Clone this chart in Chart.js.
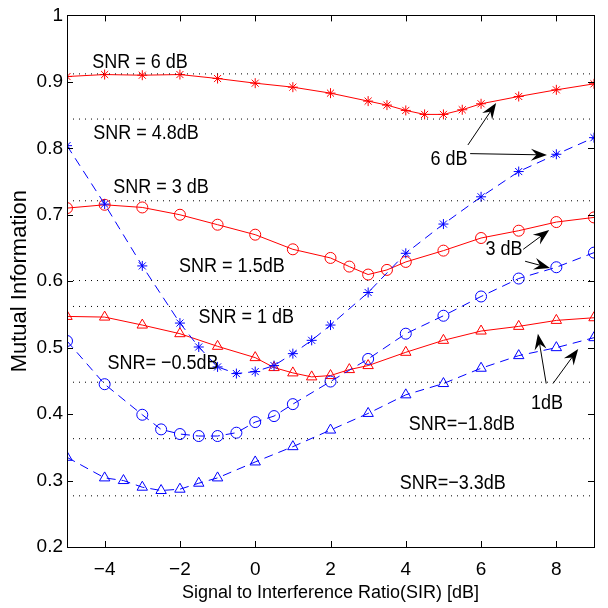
<!DOCTYPE html>
<html>
<head>
<meta charset="utf-8">
<script src="https://cdn.jsdelivr.net/npm/chart.js@4.4.0/dist/chart.umd.min.js"></script>
<style>
  html, body { margin: 0; padding: 0; background: #fff; }
</style>
</head>
<body>
<canvas id="miChart" width="608" height="608"></canvas>
<script>
// eixos
var xTicks = [-4, -2, 0, 2, 4, 6, 8];
var yTicks = [0.2, 0.3, 0.4, 0.5, 0.6, 0.7, 0.8, 0.9, 1];

// SNR = 6 dB (vermelho, estrela)
var sir6 = [-5, -4, -3, -2, -1, 0, 1, 2, 3, 3.5, 4, 4.5, 5, 5.5, 6, 7, 8, 9];
var mi6 = [0.908, 0.911, 0.910, 0.911, 0.905, 0.898, 0.892, 0.883, 0.871, 0.865, 0.857, 0.851, 0.851, 0.858, 0.867, 0.878, 0.888, 0.897];

// SNR = 4.8 dB (azul, estrela)
var sir48 = [-5, -4, -3, -2, -1.5, -1, -0.5, 0, 0.5, 1, 1.5, 2, 3, 4, 5, 6, 7, 8, 9];
var mi48 = [0.804, 0.716, 0.623, 0.537, 0.501, 0.471, 0.461, 0.464, 0.473, 0.491, 0.511, 0.534, 0.583, 0.642, 0.686, 0.727, 0.765, 0.791, 0.816];

// SNR = 3 dB (vermelho, circulo)
var sir3 = [-5, -4, -3, -2, -1, 0, 1, 2, 2.5, 3, 3.5, 4, 5, 6, 7, 8, 9];
var mi3 = [0.710, 0.715, 0.711, 0.700, 0.685, 0.670, 0.648, 0.635, 0.622, 0.610, 0.617, 0.629, 0.646, 0.665, 0.676, 0.689, 0.696];

// SNR = -0.5 dB (azul, circulo)
var sirM05 = [-5, -4, -3, -2.5, -2, -1.5, -1, -0.5, 0, 0.5, 1, 2, 3, 4, 5, 6, 7, 8, 9];
var miM05 = [0.510, 0.445, 0.399, 0.377, 0.370, 0.367, 0.367, 0.372, 0.388, 0.397, 0.415, 0.449, 0.483, 0.521, 0.548, 0.577, 0.604, 0.621, 0.643];

// SNR = 1 dB (vermelho, triangulo)
var sir1 = [-5, -4, -3, -2, -1, 0, 0.5, 1, 1.5, 2, 2.5, 3, 4, 5, 6, 7, 8, 9];
var mi1 = [0.547, 0.546, 0.534, 0.521, 0.502, 0.485, 0.470, 0.462, 0.456, 0.458, 0.467, 0.473, 0.493, 0.511, 0.525, 0.532, 0.541, 0.545];

// SNR = -1.8 dB (azul, triangulo)
var sirM18 = [-5, -4, -3.5, -3, -2.5, -2, -1.5, -1, 0, 1, 2, 3, 4, 5, 6, 7, 8, 9];
var miM18 = [0.335, 0.304, 0.300, 0.290, 0.285, 0.287, 0.296, 0.304, 0.328, 0.351, 0.376, 0.401, 0.429, 0.446, 0.469, 0.488, 0.500, 0.515];

// limites pontilhados (capacidade para cada SNR)
var limitLevels = [0.912, 0.844, 0.721, 0.601, 0.562, 0.448, 0.363, 0.277];

// rotulos das curvas [texto, sir, mi]
var snrLabels = [
    ['SNR = 6 dB', -3.06, 0.930],
    ['SNR = 4.8dB', -2.90, 0.822],
    ['SNR = 3 dB', -2.50, 0.741],
    ['SNR = 1.5dB', -0.62, 0.623],
    ['SNR = 1 dB', -0.24, 0.546],
    ['SNR= \u22120.5dB', -2.45, 0.477],
    ['SNR=\u22121.8dB', 5.49, 0.384],
    ['SNR=\u22123.3dB', 5.25, 0.296]
];

// setas [texto, sir, mi, [[x1, y1, x2, y2], ...]]
var arrowNotes = [
    ['6 dB', 5.15, 0.784, [[5.65, 0.805, 6.40, 0.868], [5.71, 0.792, 7.75, 0.790]]],
    ['3 dB', 6.61, 0.648, [[7.12, 0.648, 7.81, 0.677], [7.17, 0.630, 7.83, 0.620]]],
    ['1dB', 7.75, 0.416, [[7.73, 0.446, 7.51, 0.521], [7.91, 0.446, 8.58, 0.498]]]
];

function toPoints(xs, ys) {
    return xs.map(function (x, i) { return { x: x, y: ys[i] }; });
}

function curve(xs, ys, color, dashed, style, radius) {
    return {
        data: toPoints(xs, ys),
        borderColor: color,
        borderWidth: 1,
        borderDash: dashed ? [9, 6] : [],
        pointStyle: style,
        pointRadius: radius,
        pointBorderColor: color,
        pointBackgroundColor: 'rgba(0,0,0,0)',
        pointBorderWidth: 1,
        fill: false,
        tension: 0
    };
}

var datasets = limitLevels.map(function (v) {
    return {
        data: [{ x: -5, y: v }, { x: 9, y: v }],
        borderColor: '#000',
        borderWidth: 1,
        borderDash: [1, 5],
        pointRadius: 0,
        fill: false
    };
});
datasets.push(curve(sir6, mi6, '#ff0000', false, 'star', 5));
datasets.push(curve(sir48, mi48, '#0000ff', true, 'star', 5));
datasets.push(curve(sir3, mi3, '#ff0000', false, 'circle', 5.5));
datasets.push(curve(sirM05, miM05, '#0000ff', true, 'circle', 5.5));
datasets.push(curve(sir1, mi1, '#ff0000', false, 'triangle', 6));
datasets.push(curve(sirM18, miM18, '#0000ff', true, 'triangle', 6));

function drawArrow(ctx, x1, y1, x2, y2) {
    var dx = x2 - x1, dy = y2 - y1;
    var len = Math.sqrt(dx * dx + dy * dy);
    var ux = dx / len, uy = dy / len;
    var nx = -uy, ny = ux;
    var L = 16, W = 6;
    ctx.beginPath();
    ctx.moveTo(x1, y1);
    ctx.lineTo(x2 - ux * L * 0.6, y2 - uy * L * 0.6);
    ctx.stroke();
    ctx.beginPath();
    ctx.moveTo(x2, y2);
    ctx.lineTo(x2 - ux * L + nx * W, y2 - uy * L + ny * W);
    ctx.lineTo(x2 - ux * L * 0.65, y2 - uy * L * 0.65);
    ctx.lineTo(x2 - ux * L - nx * W, y2 - uy * L - ny * W);
    ctx.closePath();
    ctx.fill();
}

// texto um pouco esticado na vertical, como no original
function tallText(ctx, txt, x, y) {
    ctx.save();
    ctx.translate(x, y);
    ctx.scale(1, 1.15);
    ctx.fillText(txt, 0, 0);
    ctx.restore();
}

var matlabAxes = {
    id: 'matlabAxes',
    afterDraw: function (chart) {
        var ctx = chart.ctx;
        var a = chart.chartArea;
        var xs = chart.scales.x, ys = chart.scales.y;
        ctx.save();
        ctx.strokeStyle = '#000';
        ctx.fillStyle = '#000';
        ctx.lineWidth = 1;
        // caixa
        ctx.strokeRect(Math.round(a.left) + 0.5, Math.round(a.top) + 0.5,
            Math.round(a.right - a.left), Math.round(a.bottom - a.top));
        // marcas para dentro
        ctx.beginPath();
        xTicks.forEach(function (v) {
            var px = Math.round(xs.getPixelForValue(v)) + 0.5;
            ctx.moveTo(px, a.bottom); ctx.lineTo(px, a.bottom - 6);
            ctx.moveTo(px, a.top); ctx.lineTo(px, a.top + 6);
        });
        yTicks.forEach(function (v) {
            var py = Math.round(ys.getPixelForValue(v)) + 0.5;
            ctx.moveTo(a.left, py); ctx.lineTo(a.left + 6, py);
            ctx.moveTo(a.right, py); ctx.lineTo(a.right - 6, py);
        });
        ctx.stroke();

        // textos
        ctx.font = '18px "Liberation Sans", Arial, sans-serif';
        ctx.textAlign = 'center';
        ctx.textBaseline = 'middle';
        snrLabels.forEach(function (t) {
            tallText(ctx, t[0], xs.getPixelForValue(t[1]), ys.getPixelForValue(t[2]));
        });
        arrowNotes.forEach(function (n) {
            tallText(ctx, n[0], xs.getPixelForValue(n[1]), ys.getPixelForValue(n[2]));
            n[3].forEach(function (s) {
                drawArrow(ctx, xs.getPixelForValue(s[0]), ys.getPixelForValue(s[1]),
                    xs.getPixelForValue(s[2]), ys.getPixelForValue(s[3]));
            });
        });
        ctx.restore();
    }
};

var fontFamily = '"Liberation Sans", Arial, sans-serif';

document.addEventListener('DOMContentLoaded', function () {
    var ctx = document.getElementById('miChart').getContext('2d');
    new Chart(ctx, {
        type: 'line',
        data: { datasets: datasets },
        options: {
            responsive: false,
            animation: false,
            layout: { padding: { top: 13, right: 14, left: 0, bottom: 0 } },
            plugins: {
                legend: { display: false },
                tooltip: { enabled: false }
            },
            scales: {
                x: {
                    type: 'linear',
                    min: -5,
                    max: 9,
                    afterBuildTicks: function (s) { s.ticks = xTicks.map(function (v) { return { value: v }; }); },
                    afterFit: function (s) { s.height = 61; },
                    grid: { display: false, drawTicks: false },
                    border: { display: false },
                    ticks: {
                        color: '#000',
                        font: { family: fontFamily, size: 19 },
                        padding: 11,
                        maxRotation: 0,
                        callback: function (v) { return v < 0 ? '\u2212' + Math.abs(v) : String(v); }
                    },
                    title: {
                        display: true,
                        text: 'Signal to Interference Ratio(SIR) [dB]',
                        color: '#000',
                        font: { family: fontFamily, size: 18 },
                        padding: { top: 0, bottom: 4 }
                    }
                },
                y: {
                    type: 'linear',
                    min: 0.2,
                    max: 1,
                    afterBuildTicks: function (s) { s.ticks = yTicks.map(function (v) { return { value: v }; }); },
                    afterFit: function (s) { s.width = 67; },
                    grid: { display: false, drawTicks: false },
                    border: { display: false },
                    ticks: {
                        color: '#000',
                        font: { family: fontFamily, size: 19 },
                        padding: 4,
                        callback: function (v) { return String(v); }
                    },
                    title: {
                        display: true,
                        text: 'Mutual Information',
                        color: '#000',
                        font: { family: fontFamily, size: 22 },
                        padding: { top: 7, bottom: 0 }
                    }
                }
            }
        },
        plugins: [matlabAxes]
    });
});
</script>
</body>
</html>
